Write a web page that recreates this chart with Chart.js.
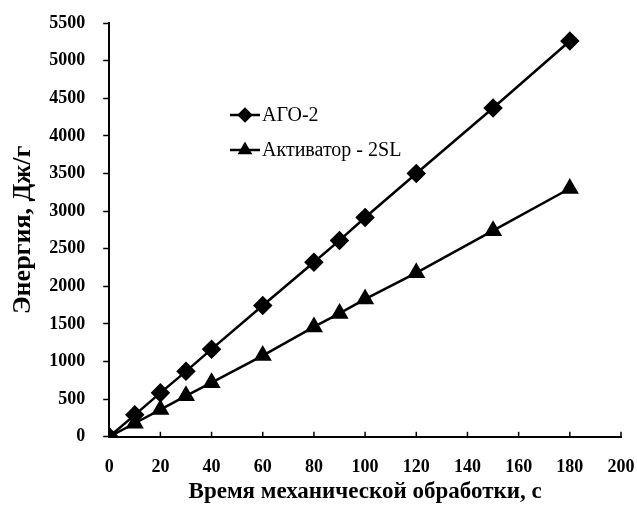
<!DOCTYPE html>
<html>
<head>
<meta charset="utf-8">
<script src="https://cdn.jsdelivr.net/npm/chart.js@4"></script>
<style>
  html, body { margin: 0; padding: 0; background: #fff; }
  #wrap { width: 637px; height: 515px; position: relative; }
</style>
</head>
<body>
<div id="wrap"><canvas id="grafico"></canvas></div>
<script>
const tempo = [0, 10, 20, 30, 40, 60, 80, 90, 100, 120, 150, 180];
const energiaAgo = [0, 292, 584, 870, 1165, 1745, 2320, 2610, 2915, 3500, 4370, 5260];
const energiaAtivador = [0, 180, 362, 545, 720, 1080, 1460, 1640, 1830, 2180, 2740, 3300];
const nomesSeries = ['АГО-2', 'Активатор - 2SL'];
const marcadores = ['rectRot', 'triangle'];

const FONTE = '"Liberation Serif", "Times New Roman", serif';

// legenda desenhada dentro da área do gráfico
const legendaInterna = {
  id: 'legendaInterna',
  afterDraw(chart) {
    const ctx = chart.ctx;
    const x0 = 230, linhas = [115, 150];
    ctx.save();
    chart.data.datasets.forEach((ds, i) => {
      const y = linhas[i];
      ctx.strokeStyle = '#000';
      ctx.lineWidth = 2.5;
      ctx.beginPath();
      ctx.moveTo(x0, y);
      ctx.lineTo(x0 + 30, y);
      ctx.stroke();
      Chart.helpers.drawPoint(ctx, { pointStyle: marcadores[i], radius: 6, borderWidth: 1 }, x0 + 15, y);
      ctx.fillStyle = '#000';
      ctx.font = '20px ' + FONTE;
      ctx.textBaseline = 'middle';
      ctx.fillText(ds.label, x0 + 32, y + 1);
    });
    ctx.restore();
  }
};

// marcas do eixo x voltadas para dentro
const marcasX = {
  id: 'marcasX',
  afterDraw(chart) {
    const ctx = chart.ctx;
    const sx = chart.scales.x;
    const base = chart.chartArea.bottom;
    ctx.save();
    ctx.strokeStyle = '#000';
    ctx.lineWidth = 1.5;
    sx.ticks.forEach((t) => {
      const px = sx.getPixelForValue(t.value);
      ctx.beginPath();
      ctx.moveTo(px, base);
      ctx.lineTo(px, base - 5);
      ctx.stroke();
    });
    ctx.restore();
  }
};

const estiloSerie = (i, dados) => ({
  label: nomesSeries[i],
  data: tempo.map((t, k) => ({ x: t, y: dados[k] })),
  borderColor: '#000',
  backgroundColor: '#000',
  borderWidth: 2.5,
  pointStyle: marcadores[i],
  pointRadius: 8,
  pointHoverRadius: 8,
  tension: 0,
});

new Chart(document.getElementById('grafico'), {
  type: 'line',
  data: {
    datasets: [estiloSerie(0, energiaAgo), estiloSerie(1, energiaAtivador)],
  },
  options: {
    responsive: true,
    maintainAspectRatio: false,
    animation: false,
    layout: { padding: { top: 23, right: 0, left: 8, bottom: 9 } },
    plugins: { legend: { display: false }, tooltip: { enabled: false } },
    scales: {
      x: {
        type: 'linear',
        min: 0,
        max: 200,
        afterFit: (s) => { s.paddingRight = 16; },
        ticks: {
          stepSize: 20, color: '#000', padding: 20,
          font: { family: FONTE, size: 18, weight: 'bold' },
          callback: (v) => String(v),
        },
        grid: { display: true, drawOnChartArea: false, drawTicks: false, color: '#000' },
        border: { color: '#000', width: 2 },
        title: {
          display: true,
          text: 'Время механической обработки, с',
          color: '#000',
          font: { family: FONTE, size: 23, weight: 'bold' },
          padding: { top: -20, bottom: 0 },
        },
      },
      y: {
        min: 0,
        max: 5500,
        afterFit: (s) => { s.paddingTop = 0; },
        ticks: {
          stepSize: 500, color: '#000', padding: 18,
          font: { family: FONTE, size: 18, weight: 'bold' },
          callback: (v) => String(v),
        },
        grid: { display: true, drawOnChartArea: false, tickLength: 6, tickWidth: 1.5, tickColor: '#000' },
        border: { color: '#000', width: 2 },
        title: {
          display: true,
          text: 'Энергия, Дж/г',
          color: '#000',
          font: { family: FONTE, size: 26, weight: 'bold' },
          padding: { top: 0, bottom: -8 },
        },
      },
    },
  },
  plugins: [legendaInterna, marcasX],
});
</script>
</body>
</html>
